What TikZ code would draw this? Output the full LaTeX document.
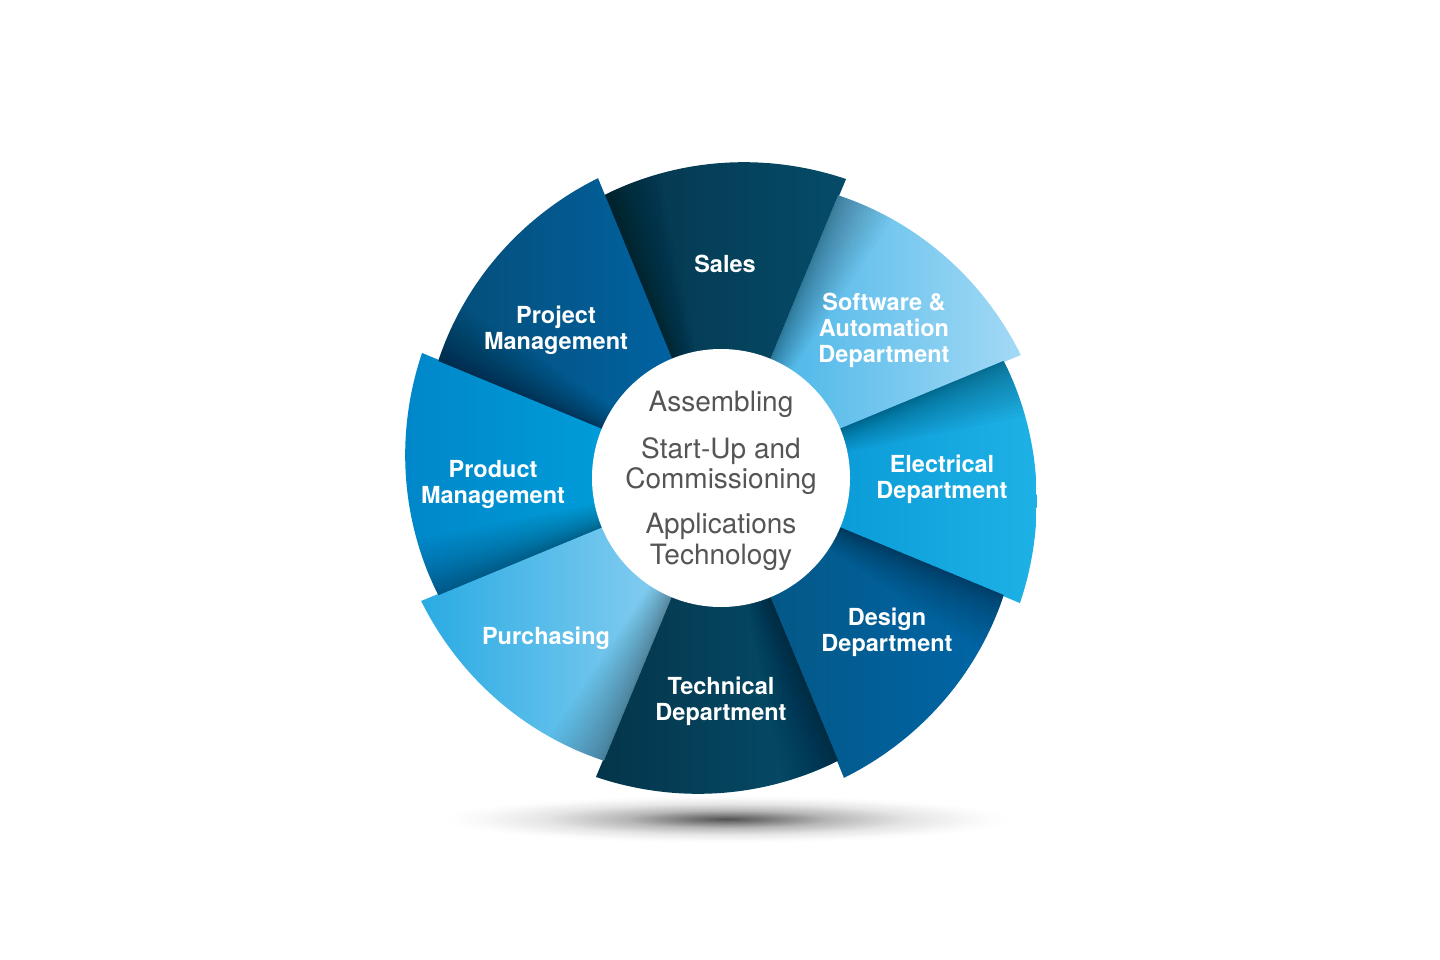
\documentclass[tikz,border=0pt]{standalone}
\usepackage{fontspec}
\setmainfont{TeX Gyre Heros}
\definecolor{salesL}{HTML}{05354B}
\definecolor{salesR}{HTML}{054C6A}
\definecolor{softL}{HTML}{3AB0E6}
\definecolor{softR}{HTML}{A3D9F5}
\definecolor{elecL}{HTML}{0090D0}
\definecolor{elecR}{HTML}{1EB1E5}
\definecolor{desL}{HTML}{045580}
\definecolor{desR}{HTML}{0066A8}
\definecolor{techL}{HTML}{04354A}
\definecolor{techR}{HTML}{064E6C}
\definecolor{purL}{HTML}{2AABE3}
\definecolor{purR}{HTML}{9BD5F3}
\definecolor{prodL}{HTML}{0087C9}
\definecolor{prodR}{HTML}{00A8E2}
\definecolor{projL}{HTML}{054D78}
\definecolor{projR}{HTML}{0067A9}
\definecolor{centergray}{HTML}{555555}
\pgfdeclareradialshading{floorshadow}{\pgfpoint{0bp}{0bp}}{color(0bp)=(black!68); color(4bp)=(black!50); color(9bp)=(black!28); color(16bp)=(black!10); color(22bp)=(black!2); color(25bp)=(white); color(50bp)=(white)}
\tikzset{
  lbl/.style={text=white, font=\bfseries\fontsize{23.5}{26}\selectfont, align=center, inner sep=0pt},
  ctr/.style={text=centergray, font=\fontsize{28}{30.5}\selectfont, align=center, inner sep=0pt}
}
\begin{document}
\begin{tikzpicture}[x=1pt,y=-1pt]
\useasboundingbox (0,0) rectangle (1440,960);
\fill[white] (0,0) rectangle (1440,960);
% floor shadow
\shade[shading=floorshadow] (727,819) ellipse [x radius=285, y radius=24];
% segments
\foreach \s/\ca/\cb in {247.5/salesL/salesR, 292.5/softL/softR, 337.5/elecL/elecR, 382.5/desL/desR, 427.5/techL/techR, 472.5/purL/purR, 517.5/prodL/prodR, 562.5/projL/projR}{
  \pgfmathsetmacro\e{\s+45.2}
  \def\seg{(721,478) -- plot[domain=\s:\e, samples=50, variable=\t] ({721+(306+0.4*(\t-\s))*cos(\t)}, {478+(306+0.4*(\t-\s))*sin(\t)}) -- cycle}
  \shade[left color=\ca, right color=\cb] \seg;
  \begin{scope}
    \clip \seg;
    \foreach \i in {1,...,20}{
      \pgfmathsetmacro\w{\s+11*(\i/20)^1.5}
      \fill[black, opacity=0.018] (721,478) -- ({721+420*cos(\s-1)},{478+420*sin(\s-1)}) -- ({721+420*cos(\w)},{478+420*sin(\w)}) -- cycle;
    }
  \end{scope}
}
% center disc
\fill[white] (721,478) circle [radius=129];
% labels
\node[lbl] (sales) at (725,264) {Sales};
\node[lbl] (soft) at (884,330) {Software \&\\Automation\\Department};
\node[lbl] (elec) at (942,479) {Electrical\\Department};
\node[lbl] (design) at (887,632) {Design\\Department};
\node[lbl] (tech) at (721,701) {Technical\\Department};
\node[lbl] (purch) at (546,638) {Purchasing};
\node[lbl] (prod) at (493,484) {Product\\Management};
\node[lbl] (proj) at (556,330) {Project\\Management};
% center text
\node[ctr] (c1) at (721,404) {Assembling};
\node[ctr] (c2) at (721,466) {Start-Up and\\Commissioning};
\node[ctr] (c3) at (721,542) {Applications\\Technology};
\end{tikzpicture}
\end{document}
